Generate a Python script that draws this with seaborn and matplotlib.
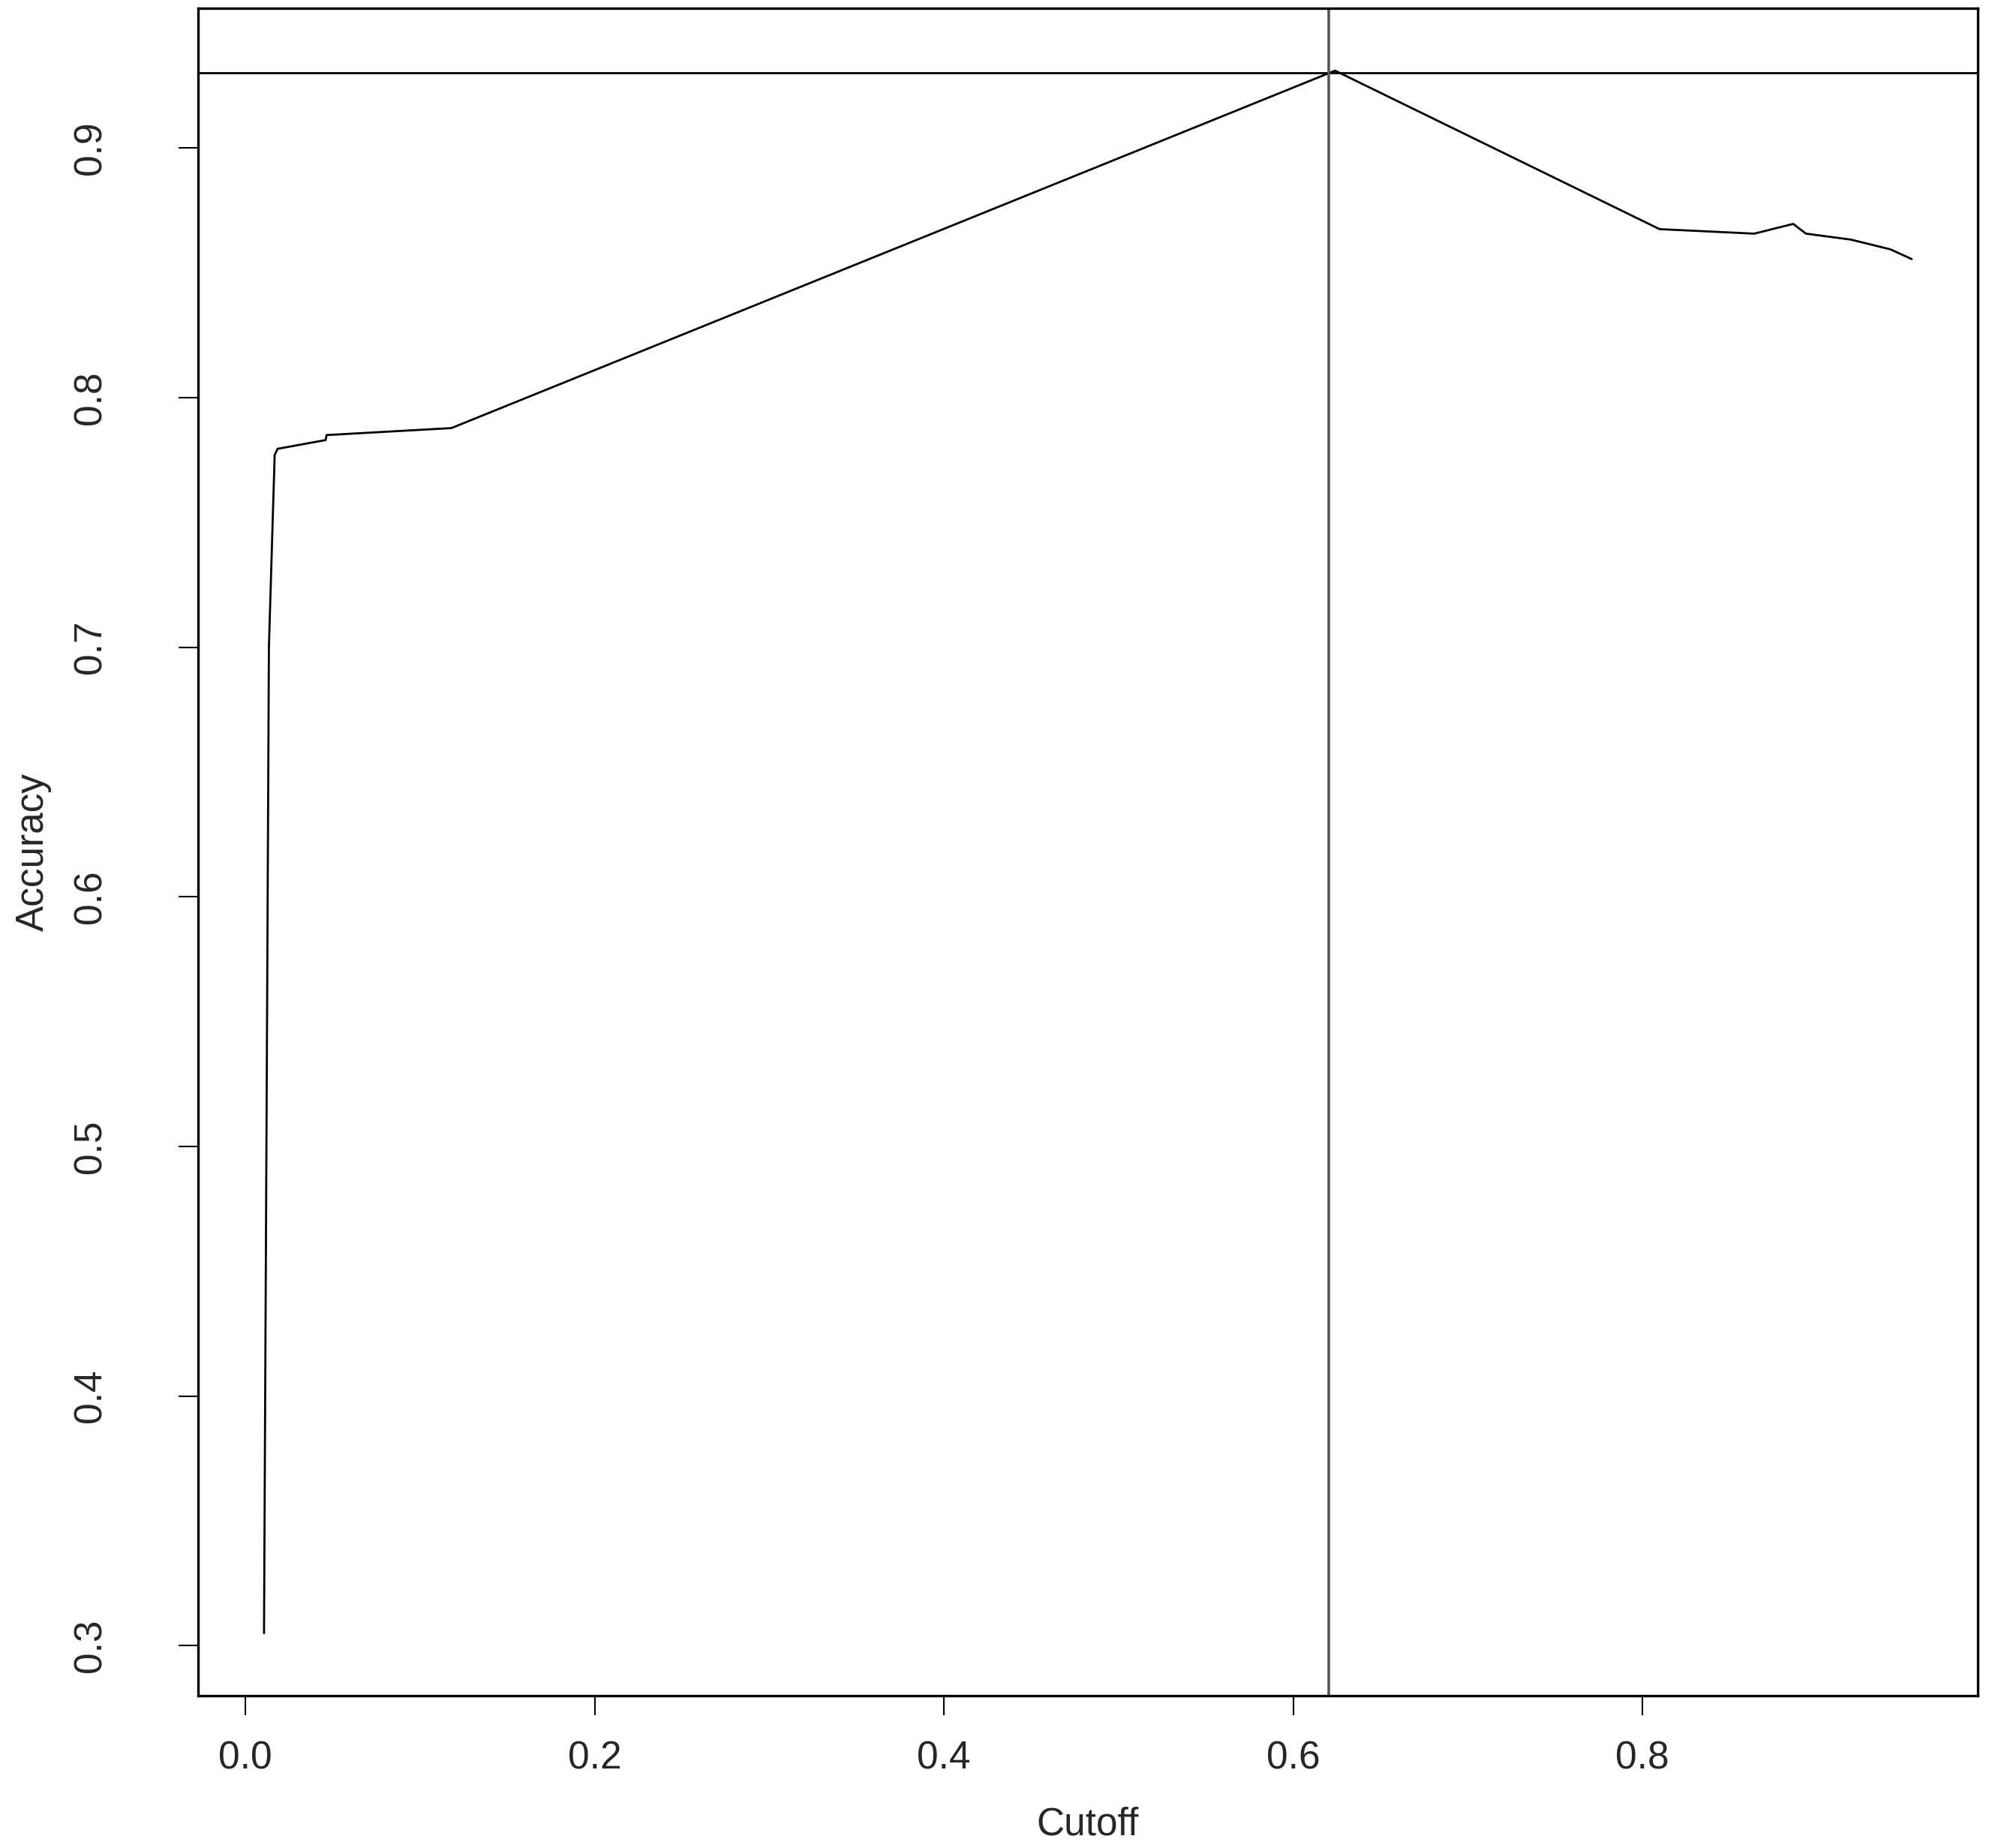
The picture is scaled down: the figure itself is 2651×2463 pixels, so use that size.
import matplotlib
matplotlib.use("Agg")
import matplotlib.pyplot as plt
import seaborn as sns

# accuracy vs cutoff
cutoff = [0.0107, 0.0135, 0.0168, 0.0185, 0.046, 0.0465, 0.118, 0.624,
          0.8098, 0.864, 0.8863, 0.8936, 0.9194, 0.942, 0.9542]
accuracy = [0.305, 0.700, 0.777, 0.7795, 0.783, 0.785, 0.7878, 0.931,
            0.8675, 0.8657, 0.8696, 0.8657, 0.8633, 0.8594, 0.8555]

best_cutoff = 0.6203
best_accuracy = 0.930

x_ticks = [0.0, 0.2, 0.4, 0.6, 0.8]
y_ticks = [0.3, 0.4, 0.5, 0.6, 0.7, 0.8, 0.9]

sns.set_theme(style="white")
plt.rcParams["font.family"] = ["Liberation Sans", "DejaVu Sans"]

fig = plt.figure(figsize=(26.51, 24.63), dpi=100)
ax = fig.add_axes([0.0996, 0.0824, 0.8947, 0.9132])

sns.lineplot(x=cutoff, y=accuracy, ax=ax, color="black", linewidth=2.0,
             sort=False, estimator=None)
ax.margins(x=0.04, y=0.04)

ax.axhline(best_accuracy, color="black", linewidth=2.0)
ax.axvline(best_cutoff, color="#555555", linewidth=2.6)

ax.set_xticks(x_ticks)
ax.set_xticklabels([f"{v:.1f}" for v in x_ticks])
ax.set_yticks(y_ticks)
ax.set_yticklabels([f"{v:.1f}" for v in y_ticks], rotation=90, va="center")

ax.tick_params(axis="both", which="major", labelsize=37, length=19, width=1.5,
               color="black", direction="out", bottom=True, left=True)
ax.tick_params(axis="x", pad=24)
ax.tick_params(axis="y", pad=66)

ax.set_xlabel("Cutoff", fontsize=37, labelpad=28)
ax.set_ylabel("Accuracy", fontsize=37, labelpad=20)

for s in ax.spines.values():
    s.set_visible(True)
    s.set_color("black")
    s.set_linewidth(2.4)

ax.grid(False)
fig.savefig("out.png", dpi=100, facecolor="white")
